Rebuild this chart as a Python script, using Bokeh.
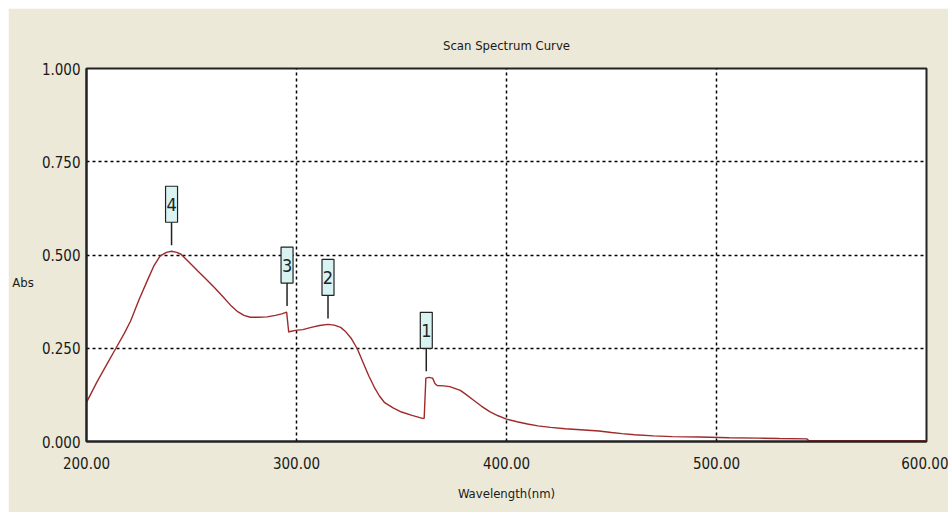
from bokeh.plotting import figure
from bokeh.models import FixedTicker, PrintfTickFormatter, Range1d, ColumnDataSource
from bokeh.core.properties import value
from bokeh.embed import file_html
from bokeh.resources import INLINE

# ---- data ----
wavelength = [200, 205, 210, 214, 218, 221, 225, 229, 232, 235, 238, 240.5, 243, 245,
              249, 253, 257, 261, 265, 269, 272, 275, 278, 282, 286, 290, 293, 295.3,
              296.3, 297, 299.5, 303, 307, 311, 315, 318, 321, 323.5, 326, 329, 332,
              334.5, 337, 339.5, 342, 346, 350, 355, 360, 360.8, 361.6, 363, 364.8,
              366, 367, 370, 373, 376, 378, 381, 384.5, 388, 392, 396, 400, 405, 410,
              415, 421, 428, 437, 444, 450, 455, 461, 470, 479, 492, 506, 520, 530,
              543, 544, 575, 600]
absorbance = [0.105, 0.160, 0.210, 0.250, 0.290, 0.323, 0.380, 0.432, 0.470, 0.497, 0.507, 0.510, 0.507, 0.502,
              0.480, 0.457, 0.435, 0.412, 0.388, 0.363, 0.348, 0.338, 0.333, 0.333, 0.334, 0.338, 0.342, 0.347,
              0.293, 0.295, 0.298, 0.300, 0.306, 0.311, 0.314, 0.312, 0.306, 0.294, 0.277, 0.248, 0.208,
              0.175, 0.146, 0.122, 0.104, 0.090, 0.079, 0.070, 0.062, 0.062, 0.170, 0.172, 0.170,
              0.155, 0.150, 0.149, 0.147, 0.141, 0.137, 0.125, 0.110, 0.095, 0.080, 0.069, 0.060, 0.053, 0.047,
              0.042, 0.038, 0.034, 0.031, 0.028, 0.024, 0.021, 0.018, 0.015, 0.013, 0.012, 0.010, 0.009, 0.008,
              0.007, 0.002, 0.002, 0.002]

peak_numbers = ["1", "2", "3", "4"]
peak_wavelength = [361.8, 315.0, 295.5, 240.5]
peak_absorbance = [0.172, 0.314, 0.347, 0.510]

x_ticks = [200, 300, 400, 500, 600]
y_ticks = [0.0, 0.25, 0.5, 0.75, 1.0]

title_text = "Scan Spectrum Curve"
x_label = "Wavelength(nm)"
y_label = "Abs"

# ---- style ----
FONT = "DejaVu Sans Condensed"
BG = "#ECE9D8"
CURVE = "#9E2A2B"

p = figure(width=940, height=504, output_backend="svg", toolbar_location=None,
           x_range=Range1d(200, 600), y_range=Range1d(0, 1.0),
           min_border_left=78, min_border_right=22, min_border_top=60, min_border_bottom=71)
p.margin = (8, 0, 0, 8)
p.border_fill_color = BG
p.background_fill_color = "white"
p.outline_line_color = "#222222"
p.outline_line_width = 2

p.title.text = title_text
p.title.align = "center"
p.title.text_font = FONT
p.title.text_font_size = "13px"
p.title.text_font_style = "normal"
p.title.text_color = "#1a1a1a"
p.title.standoff = 31

for ax in (p.xaxis, p.yaxis):
    ax.major_tick_line_color = None
    ax.minor_tick_line_color = None
    ax.major_tick_out = 0
    ax.major_tick_in = 0
    ax.minor_tick_out = 0
    ax.axis_line_color = "#222222"
    ax.axis_line_width = 2
    ax.major_label_text_font = FONT
    ax.major_label_text_font_size = "15px"
    ax.major_label_text_color = "#1a1a1a"
    ax.axis_label_text_font = FONT
    ax.axis_label_text_font_size = "13px"
    ax.axis_label_text_font_style = "normal"
    ax.axis_label_text_color = "#1a1a1a"

p.xaxis.ticker = FixedTicker(ticks=x_ticks)
p.yaxis.ticker = FixedTicker(ticks=y_ticks)
p.xaxis.formatter = PrintfTickFormatter(format="%.2f")
p.yaxis.formatter = PrintfTickFormatter(format="%.3f")
p.xaxis.major_label_standoff = 15
p.yaxis.major_label_standoff = 6

p.xaxis.axis_label = x_label
p.xaxis.axis_label_standoff = 14
p.yaxis.axis_label = "\n\n\n" + y_label
p.yaxis.axis_label_orientation = "horizontal"
p.yaxis.axis_label_standoff = 5
p.yaxis.axis_label_text_line_height = 1.2

p.xgrid.ticker = FixedTicker(ticks=[300, 400, 500])
p.ygrid.ticker = FixedTicker(ticks=[0.25, 0.5, 0.75])
for g in (p.xgrid, p.ygrid):
    g.grid_line_color = "black"
    g.grid_line_dash = "3 3"
    g.grid_line_width = 1.5

p.line(wavelength, absorbance, line_color=CURVE, line_width=1.4)

# peak markers (offsets expressed in data units, derived from the fixed ranges)
px_x = 400 / 840.0
px_y = 1.0 / 373.0
gap = 6 * px_y
stem = 23 * px_y
box_h = 36 * px_y
box_w = 12 * px_x

stem_bottom = [a + gap for a in peak_absorbance]
stem_top = [a + gap + stem for a in peak_absorbance]
box_center = [a + gap + stem + box_h / 2 for a in peak_absorbance]
src = ColumnDataSource(dict(x=peak_wavelength, y0=stem_bottom, y1=stem_top, yc=box_center, t=peak_numbers))
p.segment(x0="x", y0="y0", x1="x", y1="y1", source=src, line_color="#222222", line_width=1.5)
p.rect(x="x", y="yc", width=box_w, height=box_h, source=src,
       fill_color="#D9F3F3", line_color="#222222", line_width=1.2)
p.text(x="x", y="yc", text="t", source=src, text_align="center", text_baseline="middle",
       text_font=value(FONT), text_font_size="18px", text_color="#222222")

open("out.html", "w").write(file_html(p, INLINE))
